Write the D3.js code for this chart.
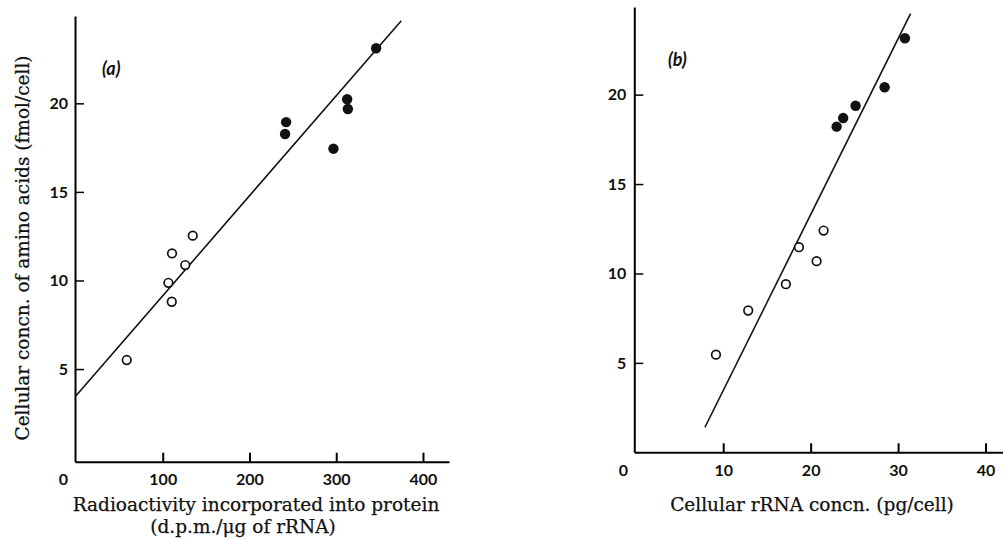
<!DOCTYPE html>
<html>
<head>
<meta charset="utf-8">
<script src="https://cdn.jsdelivr.net/npm/d3@7"></script>
<style>
  body { margin: 0; background: #fff; }
  .tick text { font-family: Lato, sans-serif; font-weight: 700; font-size: 16px; fill: #111; }
  .axis-label { font-family: "DejaVu Serif", serif; font-size: 18.5px; fill: #111; stroke: #111; stroke-width: 0.25px; }
  .panel-tag { font-family: Lato, sans-serif; font-style: italic; font-weight: 700; font-size: 18px; fill: #111; }
</style>
</head>
<body>
<div id="chart"></div>
<script>
// panel (a): radioactivity (d.p.m./ug rRNA) vs amino acids (fmol/cell)
const openA_x = [58.5, 106.5, 110.4, 126, 110.7, 134.6];
const openA_y = [5.51, 9.87, 8.80, 10.87, 11.53, 12.53];
const fillA_x = [242.2, 241, 296.8, 312.6, 313.4, 346];
const fillA_y = [18.94, 18.27, 17.44, 20.23, 19.68, 23.11];
const fitA = [[0, 3.49], [375, 24.66]];
const xTicksA = [0, 100, 200, 300, 400];
const yTicksA = [5, 10, 15, 20];

// panel (b): rRNA (pg/cell) vs amino acids (fmol/cell)
const openB_x = [9.17, 12.86, 17.17, 20.68, 18.66, 21.48];
const openB_y = [5.46, 7.93, 9.40, 10.69, 11.47, 12.40];
const fillB_x = [22.97, 23.72, 25.14, 28.46, 30.78];
const fillB_y = [18.21, 18.69, 19.38, 20.41, 23.15];
const fitB = [[7.91, 1.40], [31.43, 24.53]];
const xTicksB = [0, 10, 20, 30, 40];
const yTicksB = [5, 10, 15, 20];

const svg = d3.select("#chart")
    .append("svg")
    .attr("width", 1003)
    .attr("height", 539);

function drawPanel(opt) {
    const g = svg.append("g");
    const x = d3.scaleLinear().domain(opt.xDomain).range(opt.xRange);
    const y = d3.scaleLinear().domain(opt.yDomain).range(opt.yRange);
    const x0 = opt.xRange[0], y0 = opt.yRange[0];

    // x axis, ticks pointing up into the plot
    const xa = g.append("g")
        .attr("transform", `translate(0,${y0})`)
        .call(d3.axisBottom(x).tickValues(opt.xTicks).tickSize(-9).tickSizeOuter(0).tickPadding(opt.xPad));
    xa.select(".domain").attr("stroke-width", 2);
    xa.selectAll(".tick line").attr("stroke-width", 2);
    // origin "0" sits left of the corner, no tick mark
    xa.selectAll(".tick").filter(d => d === 0).select("line").remove();
    xa.selectAll(".tick").filter(d => d === 0).select("text").attr("dx", -13);

    // y axis, ticks pointing right
    const ya = g.append("g")
        .attr("transform", `translate(${x0},0)`)
        .call(d3.axisLeft(y).tickValues(opt.yTicks).tickSize(-9).tickSizeOuter(0).tickPadding(opt.yPad));
    ya.select(".domain").attr("stroke-width", 2);
    ya.selectAll(".tick line").attr("stroke-width", 1.5);

    // regression line
    g.append("path")
        .datum(opt.fit)
        .attr("fill", "none")
        .attr("stroke", "#111")
        .attr("stroke-width", 1.6)
        .attr("d", d3.line().x(d => x(d[0])).y(d => y(d[1])));

    // open circles
    g.selectAll(".open")
        .data(opt.openX.map((v, i) => [v, opt.openY[i]]))
        .join("circle")
        .attr("class", "open")
        .attr("cx", d => x(d[0]))
        .attr("cy", d => y(d[1]))
        .attr("r", 4.3)
        .attr("fill", "#fff")
        .attr("stroke", "#111")
        .attr("stroke-width", 1.7);

    // filled circles
    g.selectAll(".filled")
        .data(opt.fillX.map((v, i) => [v, opt.fillY[i]]))
        .join("circle")
        .attr("class", "filled")
        .attr("cx", d => x(d[0]))
        .attr("cy", d => y(d[1]))
        .attr("r", 5.2)
        .attr("fill", "#111");

    g.append("text")
        .attr("class", "panel-tag")
        .attr("x", opt.tag[0])
        .attr("y", opt.tag[1])
        .text(opt.tagText);

    return g;
}

const gA = drawPanel({
    xDomain: [-1.15, 430], xRange: [75, 449],
    yDomain: [-0.23, 24.93], yRange: [461.7, 16],
    xTicks: xTicksA, yTicks: yTicksA, xPad: 12, yPad: 7,
    openX: openA_x, openY: openA_y, fillX: fillA_x, fillY: fillA_y,
    fit: fitA, tag: [102, 75], tagText: "(a)"
});

const gB = drawPanel({
    xDomain: [-0.17, 42], xRange: [634.3, 1003],
    yDomain: [0, 24.9], yRange: [452.3, 7],
    xTicks: xTicksB, yTicks: yTicksB, xPad: 12, yPad: 8,
    openX: openB_x, openY: openB_y, fillX: fillB_x, fillY: fillB_y,
    fit: fitB, tag: [668, 66], tagText: "(b)"
});

// axis labels
gA.append("text")
    .attr("class", "axis-label")
    .attr("text-anchor", "middle")
    .attr("transform", "translate(29,248) rotate(-90)")
    .text("Cellular concn. of amino acids (fmol/cell)");

gA.append("text")
    .attr("class", "axis-label")
    .attr("text-anchor", "middle")
    .attr("x", 256)
    .attr("y", 511)
    .text("Radioactivity incorporated into protein");

gA.append("text")
    .attr("class", "axis-label")
    .attr("text-anchor", "middle")
    .attr("x", 243)
    .attr("y", 533)
    .text("(d.p.m./\u03bcg of rRNA)");

gB.append("text")
    .attr("class", "axis-label")
    .attr("text-anchor", "middle")
    .attr("x", 812)
    .attr("y", 511)
    .text("Cellular rRNA concn. (pg/cell)");
</script>
</body>
</html>
